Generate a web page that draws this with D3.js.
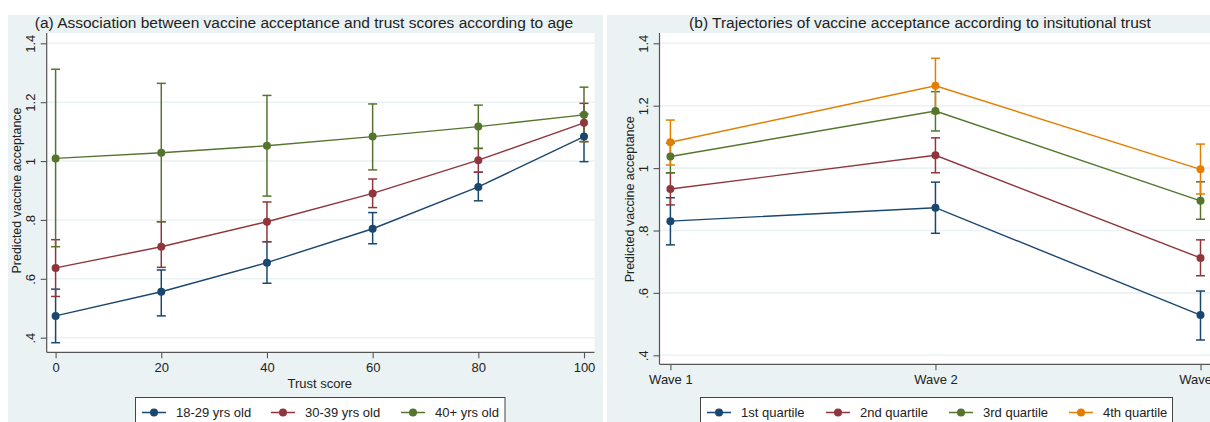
<!DOCTYPE html>
<html><head><meta charset="utf-8">
<script src="https://cdn.jsdelivr.net/npm/d3@7/dist/d3.min.js"></script>
<style>
body{margin:0;background:#fff;}
svg{display:block;font-family:"Liberation Sans",Arial,sans-serif;}
</style></head>
<body><svg id="c" width="1210" height="422"></svg>
<script>
// ---------- data ----------
const trustScores = [0, 20, 40, 60, 80, 100];
const ageGroups = ["18-29 yrs old", "30-39 yrs old", "40+ yrs old"];
const age1829   = [0.474, 0.556, 0.655, 0.770, 0.912, 1.083];
const age1829Lo = [0.383, 0.474, 0.585, 0.719, 0.865, 0.998];
const age1829Hi = [0.565, 0.630, 0.726, 0.825, 0.962, 1.160];
const age3039   = [0.637, 0.709, 0.794, 0.890, 1.003, 1.130];
const age3039Lo = [0.540, 0.639, 0.726, 0.842, 0.962, 1.066];
const age3039Hi = [0.733, 0.794, 0.861, 0.939, 1.043, 1.196];
const age40     = [1.009, 1.028, 1.052, 1.083, 1.117, 1.157];
const age40Lo   = [0.709, 0.794, 0.881, 0.970, 1.043, 1.066];
const age40Hi   = [1.312, 1.264, 1.223, 1.194, 1.190, 1.251];

const waves = ["Wave 1", "Wave 2", "Wave 3"];
const quartiles = ["1st quartile", "2nd quartile", "3rd quartile", "4th quartile"];
const q1   = [0.830, 0.873, 0.529], q1Lo = [0.754, 0.791, 0.449], q1Hi = [0.905, 0.955, 0.606];
const q2   = [0.933, 1.041, 0.712], q2Lo = [0.882, 0.985, 0.655], q2Hi = [0.985, 1.097, 0.770];
const q3   = [1.037, 1.183, 0.895], q3Lo = [0.985, 1.119, 0.836], q3Hi = [1.080, 1.245, 0.956];
const q4   = [1.083, 1.264, 0.996], q4Lo = [1.010, 1.175, 0.917], q4Hi = [1.154, 1.352, 1.077];

const yTickValues = [0.4, 0.6, 0.8, 1.0, 1.2, 1.4];
const yTickLabels = [".4", ".6", ".8", "1", "1.2", "1.4"];
const xTickValues = [0, 20, 40, 60, 80, 100];

const titleA = "(a) Association between vaccine acceptance and trust scores according to age";
const titleB = "(b) Trajectories of vaccine acceptance according to insitutional trust";
const yTitle = "Predicted vaccine acceptance";
const xTitleA = "Trust score";

// ---------- style ----------
const COLORS = ["#1a476f", "#90353b", "#55752f", "#e37e00"];
const BG = "#eaf2f3";
const TXT = "#222";
const AX = "#555";

const svg = d3.select("#c");
svg.append("rect").attr("width",1210).attr("height",422).attr("fill","#fff");

function panel(cfg){
  const g = svg.append("g");
  g.append("rect").attr("x",cfg.bg[0]).attr("y",cfg.bg[1]).attr("width",cfg.bg[2]).attr("height",cfg.bg[3]).attr("fill",BG);
  g.append("rect").attr("x",cfg.plot[0]).attr("y",cfg.plot[1]).attr("width",cfg.plot[2]-cfg.plot[0]).attr("height",cfg.plot[3]-cfg.plot[1]).attr("fill","#fff");
  const x = cfg.x, y = cfg.y;
  g.selectAll(".grid").data(yTickValues).join("line")
    .attr("x1",cfg.plot[0]).attr("x2",cfg.plot[2])
    .attr("y1",d=>y(d)).attr("y2",d=>y(d))
    .attr("stroke",BG).attr("stroke-width",1.6);
  const ya = g.append("g").attr("transform",`translate(${cfg.plot[0]},0)`)
    .call(d3.axisLeft(y).tickValues(yTickValues).tickFormat((d,i)=>yTickLabels[i]).tickSize(6).tickPadding(0));
  ya.select(".domain").attr("d",`M0,${cfg.plot[1]}V${cfg.plot[3]}`).attr("stroke",AX).attr("stroke-width",1.2);
  ya.selectAll(".tick line").attr("stroke",AX).attr("stroke-width",1.1);
  ya.selectAll(".tick text").attr("transform","rotate(-90)").attr("x",0).attr("y",-12)
    .attr("dy","0").attr("text-anchor","middle").attr("font-size",13).attr("fill",TXT);
  const xa = g.append("g").attr("transform",`translate(0,${cfg.plot[3]})`)
    .call(cfg.xAxis.tickSize(6).tickPadding(4));
  xa.select(".domain").attr("d",`M${cfg.plot[0]},0H${cfg.plot[2]}`).attr("stroke",AX).attr("stroke-width",1.2);
  xa.selectAll(".tick line").attr("stroke",AX).attr("stroke-width",1.1);
  xa.selectAll(".tick text").attr("font-size",13).attr("fill",TXT);
  g.append("text").attr("x",cfg.titleX).attr("y",28).attr("text-anchor","middle")
    .attr("font-size",cfg.titleSize).attr("fill",TXT).text(cfg.title);
  g.append("text").attr("transform",`translate(${cfg.plot[0]-30},${(y(0.4)+y(1.4))/2}) rotate(-90)`)
    .attr("text-anchor","middle").attr("dy","0.35em").attr("font-size",12.5).attr("fill",TXT).text(yTitle);
  if(cfg.xTitle){
    g.append("text").attr("x",(x.range()[0]+x.range()[1])/2).attr("y",cfg.xTitleY).attr("text-anchor","middle")
      .attr("font-size",13).attr("fill",TXT).text(cfg.xTitle);
  }
  cfg.series.forEach((s,si)=>{
    const sg = g.append("g");
    const data = cfg.xs.map((xv,i)=>({x:xv,v:s.v[i],lo:s.lo[i],hi:s.hi[i]}));
    sg.selectAll("line.ci").data(data).join("line")
      .attr("x1",d=>x(d.x)).attr("x2",d=>x(d.x)).attr("y1",d=>y(d.lo)).attr("y2",d=>y(d.hi))
      .attr("stroke",COLORS[si]).attr("stroke-width",1.5);
    ["lo","hi"].forEach(k=>{
      sg.selectAll("line.cap"+k).data(data).join("line")
        .attr("x1",d=>x(d.x)-4.5).attr("x2",d=>x(d.x)+4.5).attr("y1",d=>y(d[k])).attr("y2",d=>y(d[k]))
        .attr("stroke",COLORS[si]).attr("stroke-width",1.5);
    });
  });
  cfg.series.forEach((s,si)=>{
    const data = cfg.xs.map((xv,i)=>({x:xv,v:s.v[i]}));
    g.append("path").datum(data).attr("fill","none").attr("stroke",COLORS[si]).attr("stroke-width",1.4)
      .attr("d",d3.line().x(d=>x(d.x)).y(d=>y(d.v)));
    g.selectAll(null).data(data).join("circle")
      .attr("cx",d=>x(d.x)).attr("cy",d=>y(d.v)).attr("r",4).attr("fill",COLORS[si]);
  });
  const L = cfg.legend;
  g.append("rect").attr("x",L.x0).attr("y",L.y0).attr("width",L.x1-L.x0).attr("height",40)
    .attr("fill","#fff").attr("stroke","#444").attr("stroke-width",1);
  L.items.forEach((it,i)=>{
    const lx = L.pos[i];
    g.append("line").attr("x1",lx).attr("x2",lx+24).attr("y1",L.cy).attr("y2",L.cy)
      .attr("stroke",COLORS[i]).attr("stroke-width",1.5);
    g.append("circle").attr("cx",lx+12).attr("cy",L.cy).attr("r",4).attr("fill",COLORS[i]);
    g.append("text").attr("x",lx+34).attr("y",L.cy).attr("dy","0.35em").attr("font-size",13)
      .attr("fill",TXT).text(it);
  });
}

// panel a
const xA = d3.scaleLinear().domain([0,100]).range([55.6,584]);
const yA = d3.scaleLinear().domain([0.4,1.4]).range([337.7,43.3]);
panel({
  bg:[8,15,595,420], plot:[46.7,33,594.5,352.3], x:xA, y:yA,
  xAxis:d3.axisBottom(xA).tickValues(xTickValues).tickFormat(d3.format("d")),
  xs:trustScores, title:titleA, titleX:304, titleSize:15.5, xTitle:xTitleA, xTitleY:388,
  series:[{v:age1829,lo:age1829Lo,hi:age1829Hi},{v:age3039,lo:age3039Lo,hi:age3039Hi},{v:age40,lo:age40Lo,hi:age40Hi}],
  legend:{x0:135.5,x1:505,y0:397.5,cy:412.5,pos:[142,271,401],items:ageGroups}
});

// panel b
const xB = d3.scalePoint().domain(waves).range([670.4,1200.5]);
const yB = d3.scaleLinear().domain([0.4,1.4]).range([355.3,43.3]);
panel({
  bg:[607,15,603,420], plot:[659.5,33,1210,364.3], x:xB, y:yB,
  xAxis:d3.axisBottom(xB),
  xs:waves, title:titleB, titleX:920, titleSize:15.5, xTitle:null,
  series:[{v:q1,lo:q1Lo,hi:q1Hi},{v:q2,lo:q2Lo,hi:q2Hi},{v:q3,lo:q3Lo,hi:q3Hi},{v:q4,lo:q4Lo,hi:q4Hi}],
  legend:{x0:700.5,x1:1172.5,y0:397.5,cy:412.5,pos:[707,826,949,1069],items:quartiles}
});
</script></body></html>
